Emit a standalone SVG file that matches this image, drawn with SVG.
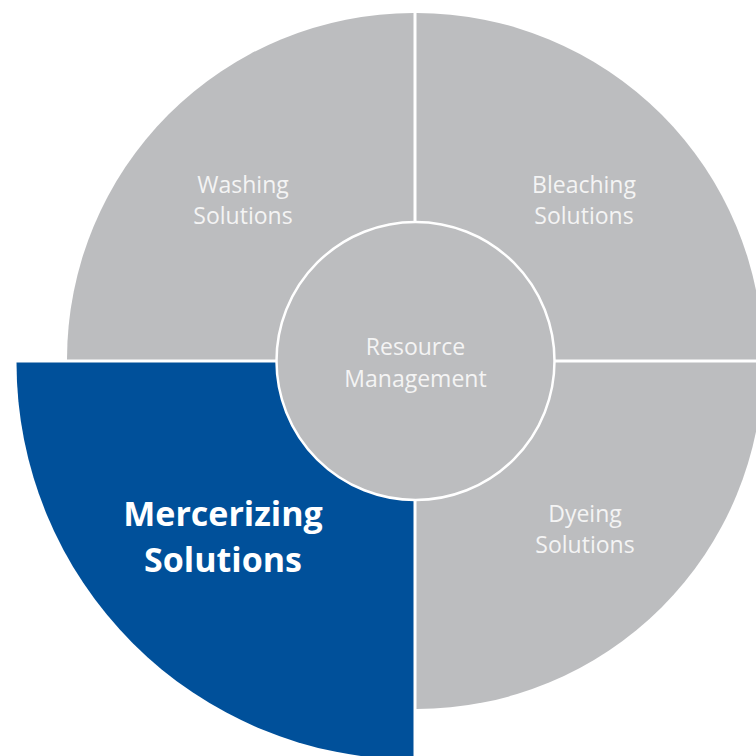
<svg xmlns="http://www.w3.org/2000/svg" width="756" height="756" viewBox="0 0 756 756">
<style>
.q{fill:#BCBDBF;}
.b{fill:#00509A;}
.t{font-family:"Open Sans","Noto Sans","DejaVu Sans",sans-serif;font-size:23px;fill:#F4F4F4;text-anchor:middle;}
.tb{font-family:"Open Sans","Noto Sans","DejaVu Sans",sans-serif;font-size:34px;font-weight:bold;fill:#FFFFFF;text-anchor:middle;}
</style>
<rect width="756" height="756" fill="#FFFFFF"/>
<g id="washing">
<path class="q" d="M413.5,359.5 L67,359.5 A346.5,346.5 0 0 1 413.5,13 Z"/>
<text class="t" x="243" y="193">Washing</text>
<text class="t" x="243" y="224">Solutions</text>
</g>
<g id="bleaching">
<path class="q" d="M416.5,359.5 L416.5,13 A346.5,346.5 0 0 1 763,359.5 Z"/>
<text class="t" x="584" y="193">Bleaching</text>
<text class="t" x="584" y="224">Solutions</text>
</g>
<g id="dyeing">
<path class="q" d="M416.5,362.5 L763,362.5 A346.5,346.5 0 0 1 416.5,709 Z"/>
<text class="t" x="585" y="522">Dyeing</text>
<text class="t" x="585" y="553">Solutions</text>
</g>
<g id="mercerizing">
<path class="b" d="M413.5,362.5 L413.5,759.5 A397,397 0 0 1 16.5,362.5 Z"/>
<text class="tb" x="223" y="526">Mercerizing</text>
<text class="tb" x="223" y="572">Solutions</text>
</g>
<g id="resource">
<circle cx="415.5" cy="361" r="139" fill="#BCBDBF" stroke="#FFFFFF" stroke-width="2.5"/>
<text class="t" x="415.5" y="355">Resource</text>
<text class="t" x="415.5" y="387">Management</text>
</g>
<g id="connectors"></g>
</svg>
